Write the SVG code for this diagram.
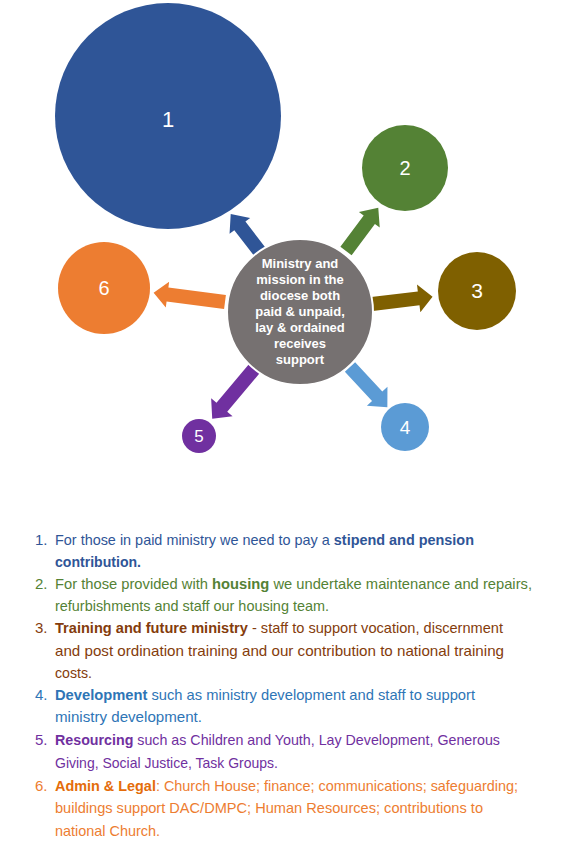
<svg xmlns="http://www.w3.org/2000/svg" width="588" height="850" viewBox="0 0 588 850">
<style>
.num{font-family:"Liberation Sans",Arial,sans-serif;fill:#fff;text-anchor:middle}
.ctr{font-family:"Liberation Sans",Arial,sans-serif;font-weight:bold;font-size:13px;fill:#fff;text-anchor:middle}
.li{font-family:"Liberation Sans",Arial,sans-serif;font-size:15px}
.b{font-weight:bold}
</style>
<rect width="588" height="850" fill="#fff"/>
<g id="connectors">
<polygon transform="translate(260,252) rotate(-127.6)" fill="#2F5597" points="0,-7 33,-7 33,-13 48,0 33,13 33,7 0,7"/>
<polygon transform="translate(346,251) rotate(-53.3)" fill="#548235" points="0,-7 39,-7 39,-13 54,0 39,13 39,7 0,7"/>
<polygon transform="translate(372,304) rotate(-6.9)" fill="#7F6000" points="0,-7 47,-7 47,-14 61,0 47,14 47,7 0,7"/>
<polygon transform="translate(350,367) rotate(47.2)" fill="#5B9BD5" points="0,-7 40,-7 40,-14 55,0 40,14 40,7 0,7"/>
<polygon transform="translate(254,369) rotate(130)" fill="#7030A0" points="0,-7 50,-7 50,-14 65,0 50,14 50,7 0,7"/>
<polygon transform="translate(225,302) rotate(187.4)" fill="#ED7D31" points="0,-7 58,-7 58,-13 72,0 58,13 58,7 0,7"/>
</g>
<g id="node1"><circle cx="168" cy="116" r="113" fill="#2F5597"/><text class="num" x="168" y="127" font-size="22">1</text></g>
<g id="node2"><circle cx="405" cy="168" r="43" fill="#548235"/><text class="num" x="405" y="175" font-size="20">2</text></g>
<g id="node3"><circle cx="477" cy="291" r="39" fill="#7F6000"/><text class="num" x="477" y="298" font-size="21">3</text></g>
<g id="node4"><circle cx="405" cy="427" r="24" fill="#5B9BD5"/><text class="num" x="405" y="434" font-size="19">4</text></g>
<g id="node5"><circle cx="199" cy="436" r="17" fill="#7030A0"/><text class="num" x="199" y="442" font-size="17">5</text></g>
<g id="node6"><circle cx="104" cy="288" r="46" fill="#ED7D31"/><text class="num" x="104" y="295" font-size="20">6</text></g>
<g id="center"><circle cx="300" cy="312" r="73" fill="#767171" stroke="#fff" stroke-width="2"/>
<text class="ctr"><tspan x="300" y="268">Ministry and</tspan><tspan x="300" y="284">mission in the</tspan><tspan x="300" y="300">diocese both</tspan><tspan x="300" y="316">paid &amp; unpaid,</tspan><tspan x="300" y="332">lay &amp; ordained</tspan><tspan x="300" y="348">receives</tspan><tspan x="300" y="364">support</tspan></text></g>
<g id="list" class="li">
<g fill="#2F5597"><text x="35" y="545">1.</text>
<text x="55" y="545" textLength="419" lengthAdjust="spacingAndGlyphs">For those in paid ministry we need to pay a <tspan class="b">stipend and pension</tspan></text>
<text x="55" y="567" class="b" textLength="86" lengthAdjust="spacingAndGlyphs">contribution.</text></g>
<g fill="#548235"><text x="35" y="589">2.</text>
<text x="55" y="589" textLength="477" lengthAdjust="spacingAndGlyphs">For those provided with <tspan class="b">housing</tspan> we undertake maintenance and repairs,</text>
<text x="55" y="611" textLength="274" lengthAdjust="spacingAndGlyphs">refurbishments and staff our housing team.</text></g>
<g fill="#843C0C"><text x="35" y="633">3.</text>
<text x="55" y="633" textLength="448" lengthAdjust="spacingAndGlyphs"><tspan class="b">Training and future ministry</tspan> - staff to support vocation, discernment</text>
<text x="55" y="656" textLength="449" lengthAdjust="spacingAndGlyphs">and post ordination training and our contribution to national training</text>
<text x="55" y="678" textLength="37" lengthAdjust="spacingAndGlyphs">costs.</text></g>
<g fill="#2E75B6"><text x="35" y="700">4.</text>
<text x="55" y="700" textLength="420" lengthAdjust="spacingAndGlyphs"><tspan class="b">Development</tspan> such as ministry development and staff to support</text>
<text x="55" y="722" textLength="147" lengthAdjust="spacingAndGlyphs">ministry development.</text></g>
<g fill="#7030A0"><text x="35" y="745">5.</text>
<text x="55" y="745" textLength="445" lengthAdjust="spacingAndGlyphs"><tspan class="b">Resourcing</tspan> such as Children and Youth, Lay Development, Generous</text>
<text x="55" y="768" textLength="223" lengthAdjust="spacingAndGlyphs">Giving, Social Justice, Task Groups.</text></g>
<g fill="#ED7D31"><text x="35" y="791">6.</text>
<text x="55" y="791" textLength="463" lengthAdjust="spacingAndGlyphs"><tspan class="b" fill="#E46C0A">Admin &amp; Legal</tspan>: Church House; finance; communications; safeguarding;</text>
<text x="55" y="813" textLength="428" lengthAdjust="spacingAndGlyphs">buildings support DAC/DMPC; Human Resources; contributions to</text>
<text x="55" y="836" textLength="105" lengthAdjust="spacingAndGlyphs">national Church.</text></g>
</g>
</svg>
